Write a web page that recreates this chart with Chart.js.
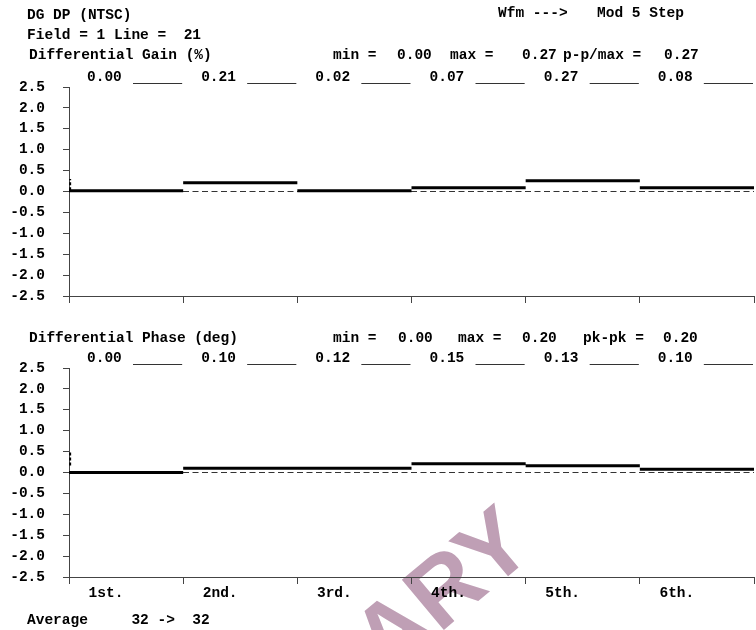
<!DOCTYPE html>
<html>
<head>
<meta charset="utf-8">
<title>DG DP (NTSC)</title>
<script src="https://cdn.jsdelivr.net/npm/chart.js@4"></script>
<style>
  html, body { margin: 0; padding: 0; background: #fff; }
  #page { position: relative; width: 756px; height: 630px; overflow: hidden; }
  canvas { position: absolute; left: 0; top: 0; z-index: 1; }
  .t {
    position: absolute; z-index: 2; color: #000;
    font: bold 14.5px "Liberation Mono", monospace;
    line-height: 16px; white-space: pre;
  }
  #wm {
    position: absolute; z-index: 0; color: #bf9fb5;
    font: bold 95px "Liberation Sans", sans-serif;
    line-height: 1; white-space: nowrap;
    transform-origin: 0 0;
    transform: rotate(-40deg) translate(-100%, -85%);
  }
</style>
</head>
<body>
<div id="page">
  <div id="wm" style="left:538px; top:552px">PRELIMINARY</div>

  <div class="t" style="left:27px; top:7px">DG DP (NTSC)</div>
  <div class="t" style="left:498px; top:5px">Wfm ---></div>
  <div class="t" style="left:597px; top:5px">Mod 5 Step</div>
  <div class="t" style="left:27px; top:27px">Field = 1 Line =  21</div>

  <div class="t" style="left:29px; top:47px">Differential Gain (%)</div>
  <div class="t" style="left:333px; top:47px">min =</div>
  <div class="t" style="left:397px; top:47px">0.00</div>
  <div class="t" style="left:450px; top:47px">max =</div>
  <div class="t" style="left:522px; top:47px">0.27</div>
  <div class="t" style="left:563px; top:47px">p-p/max =</div>
  <div class="t" style="left:664px; top:47px">0.27</div>

  <div class="t" style="left:29px; top:330px">Differential Phase (deg)</div>
  <div class="t" style="left:333px; top:330px">min =</div>
  <div class="t" style="left:398px; top:330px">0.00</div>
  <div class="t" style="left:458px; top:330px">max =</div>
  <div class="t" style="left:522px; top:330px">0.20</div>
  <div class="t" style="left:583px; top:330px">pk-pk =</div>
  <div class="t" style="left:663px; top:330px">0.20</div>

  <div class="t" style="left:27px; top:612px">Average     32 ->  32</div>

  <canvas id="dg-chart" width="756" height="630"></canvas>
  <canvas id="dp-chart" width="756" height="630"></canvas>
</div>

<script>
  // ── Data ───────────────────────────────────────────────────
  const segmentLabels = ["1st.", "2nd.", "3rd.", "4th.", "5th.", "6th."];
  // readouts printed above each step
  const dgValues = [0.00, 0.21, 0.02, 0.07, 0.27, 0.08];
  const dpValues = [0.00, 0.10, 0.12, 0.15, 0.13, 0.10];
  // levels of the traces as drawn
  const dgLevels = [0.02, 0.21, 0.02, 0.09, 0.26, 0.09];
  const dpLevels = [0.00, 0.10, 0.10, 0.21, 0.16, 0.08];
  // short dotted mark on the axis at the start of the trace
  const dgStartMark = [0.03, 0.30];
  const dpStartMark = [0.17, 0.49];
  const yMin = -2.5;
  const yMax = 2.5;
  const yStep = 0.5;
  const baseline = 0;

  const FONT = { family: "Liberation Mono", size: 14.5, weight: "bold" };
  const AXIS = "#444";

  // one flat segment per step, with breaks between them
  function stepSegments(vals) {
    const pts = [];
    vals.forEach((v, i) => {
      pts.push({ x: i, y: v }, { x: i + 1, y: v });
      if (i < vals.length - 1) pts.push({ x: i + 1, y: null });
    });
    return pts;
  }

  // value readout + underline above each step
  const valueRow = {
    id: "valueRow",
    afterDraw(chart, args, opts) {
      const { ctx, chartArea } = chart;
      const xs = chart.scales.x;
      ctx.save();
      ctx.font = "bold 14.5px 'Liberation Mono'";
      ctx.fillStyle = "#000";
      ctx.textBaseline = "middle";
      ctx.strokeStyle = "#333";
      ctx.lineWidth = 1;
      opts.values.forEach((v, i) => {
        const x0 = xs.getPixelForValue(i);
        const x1 = xs.getPixelForValue(i + 1);
        ctx.fillText(v.toFixed(2), x0 + 18, chartArea.top - 10);
        const uy = Math.round(chartArea.top - 4) + 0.5;
        ctx.beginPath();
        ctx.moveTo(x0 + 64, uy);
        ctx.lineTo(x1 - 1, uy);
        ctx.stroke();
      });
      ctx.restore();
    },
  };

  function makePanel(id, values, levels, mark, padTop, padBottom, showLabels) {
    const n = levels.length;
    new Chart(document.getElementById(id), {
      type: "line",
      data: {
        datasets: [
          {
            data: stepSegments(levels),
            borderColor: "#000",
            borderWidth: 3,
            borderCapStyle: "butt",
            pointRadius: 0,
            spanGaps: false,
          },
          {
            data: [{ x: 0.01, y: mark[0] }, { x: 0.01, y: mark[1] }],
            borderColor: "#000",
            borderWidth: 2,
            borderDash: [3, 2],
            pointRadius: 0,
          },
          {
            data: [{ x: 0, y: baseline }, { x: n, y: baseline }],
            borderColor: "#333",
            borderWidth: 1,
            borderDash: [6, 3.5],
            pointRadius: 0,
          },
        ],
      },
      options: {
        responsive: false,
        animation: false,
        devicePixelRatio: 1,
        layout: { padding: { top: padTop, bottom: padBottom, left: 0, right: 2 } },
        plugins: {
          legend: { display: false },
          tooltip: { enabled: false },
          valueRow: { values: values },
        },
        scales: {
          x: {
            type: "linear",
            min: 0,
            max: n,
            afterFit: (s) => { s.height = 30; },
            ticks: {
              display: showLabels,
              stepSize: 1,
              autoSkip: false,
              maxRotation: 0,
              labelOffset: 37,
              padding: 1,
              color: "#000",
              font: FONT,
              callback: (v) => segmentLabels[v] || "",
            },
            grid: { drawOnChartArea: false, tickLength: 7, color: AXIS },
            border: { color: AXIS },
          },
          y: {
            min: yMin,
            max: yMax,
            afterFit: (s) => { s.width = 69; },
            ticks: {
              stepSize: yStep,
              padding: 18,
              color: "#000",
              font: FONT,
              callback: (v) => v.toFixed(1),
            },
            grid: { drawOnChartArea: false, tickLength: 6, color: AXIS },
            border: { color: AXIS },
          },
        },
      },
      plugins: [valueRow],
    });
  }

  makePanel("dg-chart", dgValues, dgLevels, dgStartMark, 87, 630 - 296 - 30, false);
  makePanel("dp-chart", dpValues, dpLevels, dpStartMark, 368, 630 - 577 - 30, true);
</script>
</body>
</html>
